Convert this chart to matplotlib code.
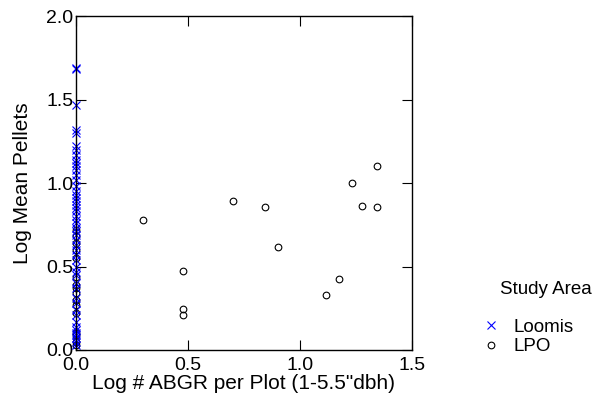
import numpy as np
import matplotlib
matplotlib.use('Agg')
import matplotlib.pyplot as plt
from matplotlib.lines import Line2D

plt.rcParams['font.family'] = ['Liberation Sans', 'DejaVu Sans']

# Loomis: all plots at log # ABGR = 0
loomis_y = [1.69, 1.68, 1.47, 1.32, 1.30, 1.22, 1.20, 1.17, 1.14, 1.12, 1.10, 1.08,
            1.05, 1.02, 0.98, 0.95, 0.93, 0.91, 0.89, 0.87, 0.85, 0.83, 0.80, 0.78,
            0.76, 0.73, 0.71, 0.69, 0.66, 0.63, 0.60, 0.57, 0.54, 0.50, 0.47, 0.45,
            0.40, 0.37, 0.31, 0.28, 0.24, 0.21, 0.17, 0.14, 0.12, 0.10, 0.09, 0.07,
            0.05, 0.03]
loomis_x = [0.0] * len(loomis_y)

# LPO
lpo_x = [0.0] * 16 + [0.301, 0.477, 0.477, 0.477, 0.699, 0.845, 0.903,
                      1.114, 1.176, 1.230, 1.279, 1.342, 1.342]
lpo_y = [0.72, 0.68, 0.64, 0.60, 0.55, 0.44, 0.39, 0.37, 0.34, 0.30, 0.27, 0.22,
         0.10, 0.09, 0.05, 0.03,
         0.78, 0.475, 0.244, 0.208, 0.894, 0.854, 0.617,
         0.327, 0.425, 1.002, 0.862, 1.102, 0.858]

fig = plt.figure(figsize=(5.92, 4.08), dpi=100)
ax = fig.add_axes([76/592, 58/408, 336/592, 334/408])

ax.plot(lpo_x, lpo_y, 'o', ms=4.8, mfc='none', mec='black', mew=0.8, clip_on=False)
ax.plot(loomis_x, loomis_y, 'x', ms=5.5, color='#0000ff', mew=0.8, clip_on=False)

ax.set_xlim(0, 1.5)
ax.set_ylim(0, 2.0)
ax.set_xticks([0.0, 0.5, 1.0, 1.5])
ax.set_yticks([0.0, 0.5, 1.0, 1.5, 2.0])
ax.xaxis.set_major_formatter(matplotlib.ticker.FormatStrFormatter('%.1f'))
ax.yaxis.set_major_formatter(matplotlib.ticker.FormatStrFormatter('%.1f'))
ax.tick_params(direction='in', length=7, width=0.8, top=True, right=True,
               labelsize=14, colors='black')
ax.tick_params(axis='x', pad=5)
ax.tick_params(axis='y', pad=2)
for s in ax.spines.values():
    s.set_linewidth(1.0)

ax.set_xlabel('Log # ABGR per Plot (1-5.5"dbh)', fontsize=15, labelpad=0)
ax.set_ylabel('Log Mean Pellets', fontsize=15, labelpad=10)

fig.text(500/592, 1 - 290/408, 'Study Area', fontsize=13.5, va='center', ha='left')
handles = [Line2D([], [], ls='none', marker='x', ms=5.5, color='#0000ff', mew=0.8),
           Line2D([], [], ls='none', marker='o', ms=4.8, mfc='none', mec='black', mew=0.8)]
fig.legend(handles, ['Loomis', 'LPO'], loc='upper left',
           bbox_to_anchor=(474/592, 1 - 309/408), frameon=False, fontsize=13.5,
           handlelength=0.8, handletextpad=0.8, labelspacing=0.15, borderpad=0)

fig.savefig('out.png', dpi=100)
